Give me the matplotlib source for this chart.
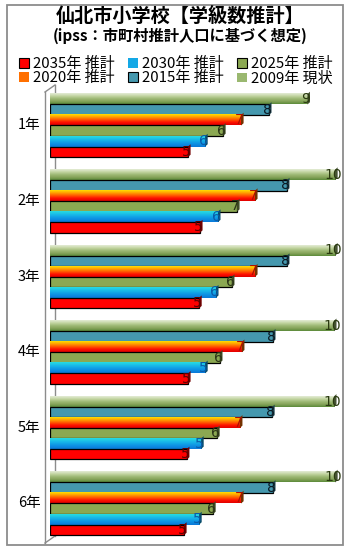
import numpy as np
import matplotlib
matplotlib.use("Agg")
import matplotlib.pyplot as plt
from matplotlib.colors import LinearSegmentedColormap, to_rgb
from matplotlib.patches import Patch, Rectangle
from matplotlib.lines import Line2D

plt.rcParams["font.family"] = ["Noto Sans CJK JP", "DejaVu Sans"]

# ---------------- data ----------------
grades = ["1年", "2年", "3年", "4年", "5年", "6年"]
series = ["2009年 現状", "2015年 推計", "2020年 推計",
          "2025年 推計", "2030年 推計", "2035年 推計"]
v2009 = [9.05, 10.02, 10.02, 9.98, 9.98, 10.02]
v2015 = [7.70, 8.33, 8.33, 7.84, 7.81, 7.84]
v2020 = [6.72, 7.21, 7.21, 6.75, 6.68, 6.72]
v2025 = [6.09, 6.58, 6.40, 5.98, 5.88, 5.74]
v2030 = [5.46, 5.91, 5.84, 5.46, 5.32, 5.25]
v2035 = [4.86, 5.28, 5.25, 4.86, 4.82, 4.72]
lab2009 = [9, 10, 10, 10, 10, 10]
lab2015 = [8, 8, 8, 8, 8, 8]
lab2020 = [7, 7, 7, 7, 7, 7]
lab2025 = [6, 7, 6, 6, 6, 6]
lab2030 = [6, 6, 6, 5, 5, 5]
lab2035 = [5, 5, 5, 5, 5, 5]
values = [v2009, v2015, v2020, v2025, v2030, v2035]
labels = [lab2009, lab2015, lab2020, lab2025, lab2030, lab2035]

# ---------------- styles ----------------
# gradient stops top -> bottom (None = flat colour with black edge)
grads = [["#e4ecd6", "#c4d6a4", "#9fba76", "#86a45a", "#5b8a3a"],
         None,
         ["#ffe000", "#ffa000", "#ff5a00", "#ff1000", "#e00000"],
         None,
         ["#28dce0", "#18b8e8", "#0e94e4", "#0a78d8"],
         None]
flat = [None, "#4598ae", None, "#8ba852", None, "#ff0000"]
leg_col = ["#9ab870", "#4598ae", "#ff7000", "#8ba852", "#14a8e6", "#ff0000"]
txt_col = ["#2a3a10", "#0a1a24", "#b01000", "#2a3416", "#0a5aa8", "#5a0000"]

W, H = 350, 550
fig = plt.figure(figsize=(W / 100, H / 100), dpi=100)

def fx(px): return px / W
def fy(py): return 1 - py / H

# outer frame
fig.add_artist(Rectangle((fx(7), fy(545)), fx(336), 540 / H, fill=False,
                         ec="#8c8c8c", lw=1.3, transform=fig.transFigure))

fig.text(fx(180), fy(16.5), "仙北市小学校【学級数推計】", ha="center",
         va="center", fontsize=13.8, fontweight="bold")
fig.text(fx(180), fy(36), "(ipss：市町村推計人口に基づく想定)", ha="center",
         va="center", fontsize=11, fontweight="bold")

# axes: value 0 at x=49.5px, 28.5 px per unit
x0, sc, xmax = 49.5, 28.5, 10.2
ax = fig.add_axes([fx(x0), fy(541.3), fx(sc * xmax), 453.6 / H])
ax.set_xlim(0, xmax)
ax.set_ylim(5.5, -0.5)
ax.axis("off")

n = len(series)
bh = 0.139
ypos = np.arange(len(grades))
for i in range(n):
    off = (i - (n - 1) / 2) * bh
    if flat[i] is not None:
        bars = ax.barh(ypos + off, values[i], height=bh, color=flat[i],
                       edgecolor="black", lw=0.9, zorder=2)
    else:
        bars = ax.barh(ypos + off, values[i], height=bh, color="none",
                       lw=0, zorder=2)
        cmap = LinearSegmentedColormap.from_list("g%d" % i, grads[i])
        grad = np.linspace(0, 1, 64).reshape(-1, 1)
        for b in bars:
            x, y, w, h = b.get_x(), b.get_y(), b.get_width(), b.get_height()
            ax.imshow(grad, cmap=cmap, aspect="auto", zorder=2,
                      extent=[x, x + w, y + h, y], interpolation="bilinear")
    # small 3D end cap
    for b in bars:
        x, y, w, h = b.get_x(), b.get_y(), b.get_width(), b.get_height()
        base = to_rgb(leg_col[i])
        dark = tuple(c * 0.45 for c in base)
        ax.fill([x + w, x + w + 0.09, x + w + 0.09, x + w],
                [y + h, y + h - 0.03, y - 0.03, y], color=dark, lw=0,
                zorder=2)
    for yy, v, lb in zip(ypos + off, values[i], labels[i]):
        ax.annotate(str(lb), (v, yy), xytext=(-1, 0), textcoords="offset points",
                    ha="center", va="center", fontsize=10, color=txt_col[i],
                    zorder=4, family=["DejaVu Sans"])

ax.set_xlim(0, xmax)
ax.set_ylim(5.5, -0.5)

# category labels
for yy, g in zip(ypos, grades):
    ax.annotate(g, (0, yy), xytext=(-6.5, 0), textcoords="offset points",
                ha="right", va="center", fontsize=10.5, annotation_clip=False)

# 3D wall lines
gc = "#8c8c8c"
for xs, ys in [([45, 45], [92, 543]), ([55, 55], [85, 536]),
               ([45, 55], [92, 85]), ([45, 55], [543, 536])]:
    fig.add_artist(Line2D([fx(v) for v in xs], [fy(v) for v in ys],
                          color=gc, lw=1.0, transform=fig.transFigure,
                          zorder=0))

# legend: rows 2035/2030/2025 and 2020/2015/2009
order = [5, 2, 4, 1, 3, 0]
handles = [Patch(facecolor=leg_col[k],
                 edgecolor="black" if flat[k] else "none", lw=0.8)
           for k in order]
fig.legend(handles, [series[k] for k in order], ncol=3,
           loc="center", bbox_to_anchor=(fx(176), fy(71.5)), frameon=False,
           fontsize=10.8, handlelength=0.62, handleheight=0.62,
           handletextpad=0.3, columnspacing=0.9, labelspacing=0.0,
           borderaxespad=0, borderpad=0)

fig.savefig("out.png", dpi=100)
